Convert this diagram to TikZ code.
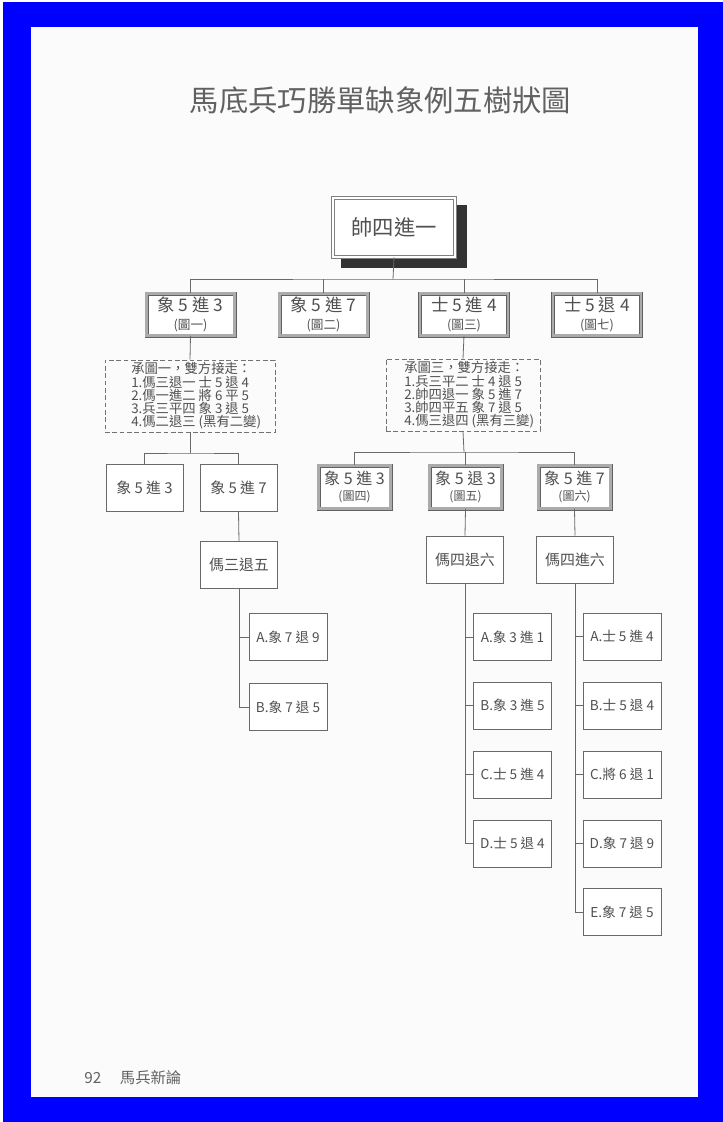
\documentclass[tikz,border=0pt]{standalone}
\usepackage{fontspec}
\newfontfamily\cjk{Noto Sans CJK TC}
\usetikzlibrary{calc}
\definecolor{pageblue}{RGB}{0,0,255}
\definecolor{ink}{RGB}{80,80,80}
\definecolor{rulec}{RGB}{105,105,105}
\definecolor{paper}{RGB}{251,251,251}
\tikzset{
  every node/.style={font=\cjk, text=ink},
  sz/.style 2 args={minimum width=#1*0.75pt, minimum height=#2*0.75pt, inner sep=0pt},
  plainbox/.style={draw=rulec, line width=0.7pt, fill=white},
  dblbox/.style={draw=black!62, line width=0.5pt, double=black!33, double distance=2pt, fill=white},
  rootbox/.style={draw=black!50, line width=0.6pt, double=white, double distance=1.6pt, fill=white},
  dashbox/.style={draw=black!55, line width=0.6pt, dash pattern=on 3.5pt off 2pt},
  conn/.style={draw=rulec, line width=0.6pt},
  lvone/.style={dblbox, sz={88}{42}, align=center, font=\cjk\fontsize{9.5}{13}\selectfont},
  lvtwo/.style={dblbox, sz={72}{43}, align=center, font=\cjk\fontsize{9}{12.5}\selectfont},
  midbox/.style={plainbox, sz={77}{47}, font=\cjk\fontsize{11.2}{13}\selectfont},
  leafbox/.style={plainbox, sz={78}{47}, font=\cjk\fontsize{10.2}{12}\selectfont},
  memo/.style={anchor=west, align=left, inner sep=0pt, font=\cjk\fontsize{10}{9.9}\selectfont},
}
\begin{document}
\begin{tikzpicture}[x=0.75pt,y=-0.75pt]
\useasboundingbox (0,0) rectangle (723,1122);
\fill[white] (0,0) rectangle (723,1122);
\fill[pageblue] (3,2) rectangle (723,1122);
\fill[paper] (31,27) rectangle (698,1097);

% title
\node[font=\cjk\fontsize{22}{24}\selectfont, text=black!62] (title) at (380.5,100) {馬底兵巧勝單缺象例五樹狀圖};

% root with shadow
\fill[black!80] (341,205) rectangle (467,268);
\node[rootbox, sz={122}{59}, font=\cjk\fontsize{16}{18}\selectfont] (root) at (394,227.5) {帥四進一};

% level one
\node[lvone] (b1) at (190.5,314.5) {{\fontsize{13}{15}\selectfont 象 5 進 3}\\{(圖一)}};
\node[lvone] (b2) at (323.5,314.5) {{\fontsize{13}{15}\selectfont 象 5 進 7}\\{(圖二)}};
\node[lvone] (b3) at (464,314.5) {{\fontsize{13}{15}\selectfont 士 5 進 4}\\{(圖三)}};
\node[lvone] (b4) at (597,314.5) {{\fontsize{13}{15}\selectfont 士 5 退 4}\\{(圖七)}};
\coordinate (bus) at (393,279);
\draw[conn] (root.south) -- (bus);
\draw[conn] (b1.north) |- (bus) -| (b4.north);
\draw[conn] (b2.north) -- (b2.north |- bus);
\draw[conn] (b3.north) -- (b3.north |- bus);

% memo boxes
\node[dashbox, sz={170}{72}] (n1) at (190,396) {};
\node[memo] (n1t) at (131,396) {承圖一，雙方接走：\\1.傌三退一 士 5 退 4\\2.傌一進二 將 6 平 5\\3.兵三平四 象 3 退 5\\4.傌二退三 (黑有二變)};
\node[dashbox, sz={154}{72}] (n2) at (463,395) {};
\node[memo] (n2t) at (404,395) {承圖三，雙方接走：\\1.兵三平二 士 4 退 5\\2.帥四退一 象 5 進 7\\3.帥四平五 象 7 退 5\\4.傌三退四 (黑有三變)};
\draw[conn] (b1.south) -- (n1.north);
\draw[conn] (b3.south) -- (n2.north);

% left branch
\node[midbox] (c1) at (144.5,488) {象 5 進 3};
\node[midbox] (c2) at (238.5,488) {象 5 進 7};
\node[midbox] (c3) at (239,565) {傌三退五};
\coordinate (s1) at (190,453);
\draw[conn] (n1.south) -- (s1);
\draw[conn] (c1.north) |- (s1) -| (c2.north);
\draw[conn] (c2.south) -- (c3.north);
\node[leafbox] (d1) at (288,637) {A.象 7 退 9};
\node[leafbox] (d2) at (288,707) {B.象 7 退 5};
\draw[conn] (c3.south) |- (d2.west);
\draw[conn] (d1.west) -- (d1.west -| c3.south);

% right branch
\node[lvtwo] (e1) at (354.5,487) {{\fontsize{12}{14}\selectfont 象 5 進 3}\\{(圖四)}};
\node[lvtwo] (e2) at (465.5,487) {{\fontsize{12}{14}\selectfont 象 5 退 3}\\{(圖五)}};
\node[lvtwo] (e3) at (574.5,487) {{\fontsize{12}{14}\selectfont 象 5 進 7}\\{(圖六)}};
\coordinate (s2) at (464,452);
\draw[conn] (n2.south) -- (s2);
\draw[conn] (e1.north) |- (s2) -| (e3.north);
\draw[conn] (e2.north) -- (e2.north |- s2);
\node[midbox] (f1) at (465,559.5) {傌四退六};
\node[midbox] (f2) at (575,559.5) {傌四進六};
\draw[conn] (e2.south) -- (f1.north);
\draw[conn] (e3.south) -- (f2.north);

\node[leafbox] (g1) at (512.5,637) {A.象 3 進 1};
\node[leafbox] (g2) at (512.5,705.5) {B.象 3 進 5};
\node[leafbox] (g3) at (512.5,774.5) {C.士 5 進 4};
\node[leafbox] (g4) at (512.5,843.5) {D.士 5 退 4};
\draw[conn] (f1.south) |- (g4.west);
\foreach \k in {g1,g2,g3} \draw[conn] (\k.west) -- (\k.west -| f1.south);

\node[leafbox] (h1) at (622,636.5) {A.士 5 進 4};
\node[leafbox] (h2) at (622,705.5) {B.士 5 退 4};
\node[leafbox] (h3) at (622,774.5) {C.將 6 退 1};
\node[leafbox] (h4) at (622,843.5) {D.象 7 退 9};
\node[leafbox] (h5) at (622,912) {E.象 7 退 5};
\draw[conn] (f2.south) |- (h5.west);
\foreach \k in {h1,h2,h3,h4} \draw[conn] (\k.west) -- (\k.west -| f2.south);

% footer
\node[anchor=west, inner sep=0pt, font=\cjk\fontsize{11.5}{13}\selectfont, text=black!62] (foot) at (84,1078) {92\hspace{14pt}馬兵新論};
\end{tikzpicture}
\end{document}
